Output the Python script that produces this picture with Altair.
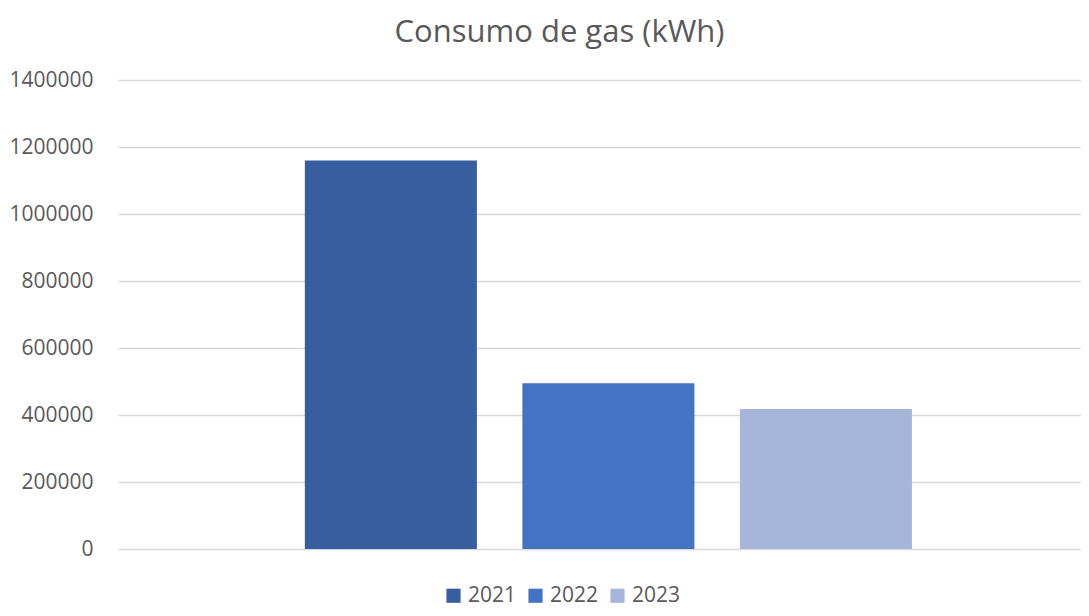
import altair as alt
import pandas as pd

years = ["2021", "2022", "2023"]
consumo = [1160000, 495000, 418000]
colors = ["#365EA0", "#4472C4", "#A6B5DA"]
y_ticks = [0, 200000, 400000, 600000, 800000, 1000000, 1200000, 1400000]

df = pd.DataFrame({"year": years, "kwh": consumo})

chart = alt.Chart(df).mark_bar().encode(
    x=alt.X("year:N", axis=None,
            scale=alt.Scale(paddingInner=0.209, paddingOuter=0.818, align=0.525)),
    y=alt.Y("kwh:Q",
            scale=alt.Scale(domain=[0, 1400000], nice=False),
            axis=alt.Axis(values=y_ticks, format="d", title=None, domain=False,
                          ticks=False, labelPadding=25, labelFont="Open Sans",
                          labelFontSize=21, labelColor="#595959",
                          gridColor="#D9D9D9", gridWidth=1.5)),
    color=alt.Color("year:N",
                    scale=alt.Scale(domain=years, range=colors),
                    legend=alt.Legend(title=None, orient="none", direction="horizontal",
                                      legendX=325, legendY=505, symbolType="square",
                                      symbolSize=200, symbolStrokeWidth=0,
                                      labelFont="Open Sans", labelFontSize=21,
                                      labelColor="#595959", columnPadding=8,
                                      labelOffset=4)),
).properties(
    width=963,
    height=469,
    title=alt.Title("Consumo de gas (kWh)", font="Open Sans", fontSize=31,
                    fontWeight="normal", color="#595959", anchor="middle",
                    dx=-40, offset=20),
    autosize=alt.AutoSizeParams(type="none"),
    padding={"left": 110, "top": 72, "right": 0, "bottom": 59},
).configure_view(stroke=None)

chart.save("out.html", embed_options={"renderer": "svg", "actions": False})
